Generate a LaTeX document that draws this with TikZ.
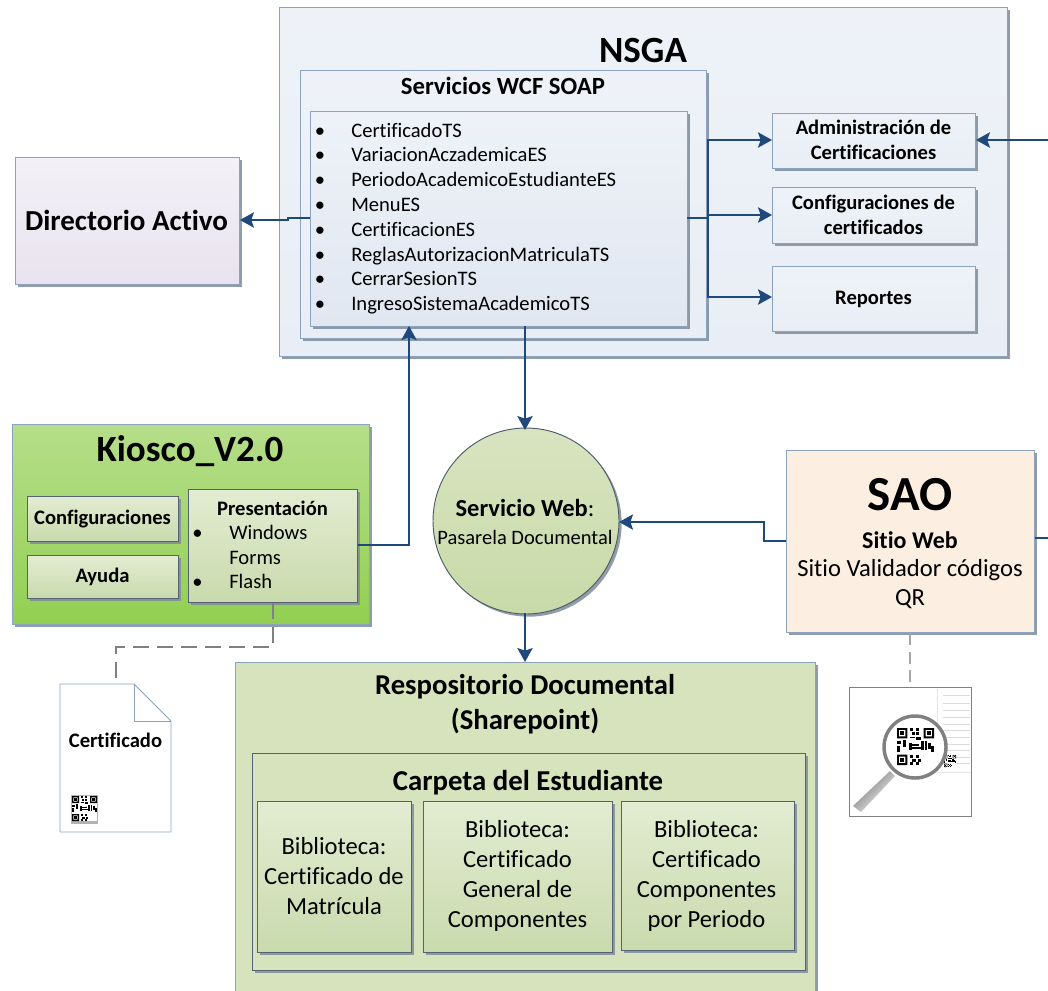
\documentclass[tikz,border=0pt]{standalone}
\usepackage{fontspec}
\setmainfont[Ligatures=NoCommon]{Carlito}
\usetikzlibrary{shadows,arrows.meta,calc}
\definecolor{edge}{HTML}{8CA3C0}
\definecolor{conn}{HTML}{1F497D}
\definecolor{dashc}{HTML}{808080}
\definecolor{blueA}{HTML}{EEF2F8}
\definecolor{blueB}{HTML}{E9EEF6}
\definecolor{blueC}{HTML}{E0E7F1}
\definecolor{lilacA}{HTML}{F3F0F7}
\definecolor{lilacB}{HTML}{E8E3EE}
\definecolor{greenA}{HTML}{B6DE8A}
\definecolor{greenB}{HTML}{92CF52}
\definecolor{sageA}{HTML}{E3ECD2}
\definecolor{sageB}{HTML}{C9DAAD}
\definecolor{circA}{HTML}{D8E4C0}
\definecolor{circB}{HTML}{C8DAA8}
\definecolor{peach}{HTML}{FDEEE2}
\definecolor{repo}{HTML}{D6E3BC}
\definecolor{shadowc}{HTML}{7F8B99}
\newcommand{\pxfont}[1]{\fontsize{\fpeval{#1*0.75}}{\fpeval{#1*0.9}}\selectfont}
\newcommand{\qrcode}[3]{% x y size (pixels)
  \begin{scope}[shift={(#1,#2)},x=#3*0.75pt/25,y=-#3*0.75pt/25]
    \fill[white] (0,0) rectangle (25,25);
    \foreach \a/\b in {0/0,18/0,0/18}{
      \fill[black,even odd rule] (\a,\b) rectangle (\a+7,\b+7) (\a+1.3,\b+1.3) rectangle (\a+5.7,\b+5.7);
      \fill[black] (\a+2.2,\b+2.2) rectangle (\a+4.8,\b+4.8);
    }
    \foreach \a/\b/\c/\d in {9/0/11/2,13/0/15/2,10/3/12/5,13/3/15/5,9/6/12/7,13/6/16/8,0/9/3/11,4/8/6/13,0/12/2/16,8/10/10/15,10/11/15/12,10/13/16/14,16/9/18/15,19/9/20/15,21/10/23/14,23/12/25/16,9/18/11/20,13/18/15/20,10/21/13/23,14/21/16/23,9/23/11/25,13/23/15/25}
      \fill[black] (\a,\b) rectangle (\c,\d);
  \end{scope}}
\tikzset{
  x=0.75pt,y=-0.75pt,
  softshadow/.style={drop shadow={shadow xshift=2pt,shadow yshift=-2pt,fill=shadowc,opacity=0.85}},
  base/.style={draw=edge,line width=0.7pt,inner sep=2pt,align=center,anchor=north west,softshadow},
  wh/.code 2 args={\tikzset{minimum width=#1*0.75pt,minimum height=#2*0.75pt}},
  bluebox/.style={base,top color=blueA,bottom color=blueB},
  blueinner/.style={base,top color=blueA,bottom color=blueC},
  sagebox/.style={base,top color=sageA,bottom color=sageB,draw=black!40!edge},
  conn/.style={draw=conn,line width=1.5pt,-{Stealth[length=10.5pt,width=11.5pt,inset=2pt]}},
  plain/.style={draw=conn,line width=1.5pt},
  dashline/.style={draw=dashc,line width=1.5pt,dash pattern=on 12pt off 6pt},
  txt/.style={inner sep=0pt,align=center},
  item/.style={inner sep=0pt,anchor=base west,font=\pxfont{20.6}},
}
\begin{document}
\begin{tikzpicture}
\useasboundingbox (0,0) rectangle (1048,990);
% NSGA
\node[bluebox,wh={728}{349}] (nsga) at (279,7) {};
\node[txt,font=\pxfont{37}\bfseries] (nsgat) at (643,50) {NSGA};
\node[bluebox,wh={406}{268}] (wcf) at (300,70) {};
\node[txt,font=\pxfont{24.7}\bfseries] (wcft) at (503,86) {Servicios WCF SOAP};
\node[blueinner,wh={377}{215}] (inner) at (310,111) {};
\foreach \i/\t [count=\n from 0] in {a/CertificadoTS,b/VariacionAczademicaES,c/PeriodoAcademicoEstudianteES,d/MenuES,e/CertificacionES,f/ReglasAutorizacionMatriculaTS,g/CerrarSesionTS,h/IngresoSistemaAcademicoTS}{
  \node[item] (bul\i) at (314.5,137+\n*24.8) {•};
  \node[item] (item\i) at (351,137+\n*24.8) {\t};
}
\node[bluebox,wh={203}{55}] (admin) at (772,113) {};
\node[txt,font=\pxfont{20.6}\bfseries] (admint) at (873.5,140) {Administración de\\Certificaciones};
\node[bluebox,wh={203}{56}] (conf) at (772,187) {};
\node[txt,font=\pxfont{20.6}\bfseries] (conft) at (873.5,215) {Configuraciones de\\certificados};
\node[bluebox,wh={203}{65}] (rep) at (772,266) {};
\node[txt,font=\pxfont{20.6}\bfseries] (rept) at (873.5,299) {Reportes};
% Directorio
\node[base,top color=lilacA,bottom color=lilacB,wh={224}{127}] (dir) at (15,157) {};
\node[txt,font=\pxfont{29}\bfseries] (dirt) at (126.5,220) {Directorio Activo};
% Kiosco
\node[base,top color=greenA,bottom color=greenB,wh={357}{200}] (kio) at (12,424) {};
\node[txt,font=\pxfont{37}\bfseries] (kiot) at (190,451) {Kiosco\_V2.0};
\node[sagebox,wh={151}{45}] (kconf) at (27,496) {};
\node[txt,font=\pxfont{20.6}\bfseries] (kconft) at (102.5,519.5) {Configuraciones};
\node[sagebox,wh={151}{43}] (ayuda) at (27,555) {};
\node[txt,font=\pxfont{20.6}\bfseries] (ayudat) at (102.5,577) {Ayuda};
\node[sagebox,wh={169}{113}] (pres) at (188,489) {};
\node[txt,font=\pxfont{20.6}\bfseries] (prest) at (272.5,508) {Presentación};
\node[item] (b1) at (192,539.5) {•};
\node[item] (w1) at (229,539.5) {Windows};
\node[item] (w2) at (229,564) {Forms};
\node[item] (b2) at (192,588.5) {•};
\node[item] (w3) at (229,588.5) {Flash};
% Circle
\node[circle,draw=black!45!edge,line width=0.7pt,top color=circA,bottom color=circB,minimum size=186*0.75pt,inner sep=0pt,softshadow] (web) at (526,521) {};
\node[txt,font=\pxfont{24.5}] (webt1) at (525,508) {\textbf{Servicio Web}:};
\node[txt,font=\pxfont{20.5}] (webt2) at (525,537) {Pasarela Documental};
% SAO
\node[base,fill=peach,wh={248}{182}] (sao) at (786,450) {};
\node[txt,font=\pxfont{49}\bfseries] (saot) at (910,495) {SAO};
\node[txt,font=\pxfont{24}\bfseries] (saot2) at (910,540) {Sitio Web};
\node[txt,font=\pxfont{24.6}] (saot3) at (910,584) {Sitio Validador códigos\\QR};
% Repository
\begin{scope}
\clip (0,0) rectangle (1048,990);
\node[base,fill=repo,wh={580}{340}] (repo) at (235,662) {};
\end{scope}
\node[txt,font=\pxfont{28.7}\bfseries] (repot) at (525,704) {Respositorio Documental\\(Sharepoint)};
\node[base,fill=repo,draw=black!40!edge,wh={553}{217}] (carp) at (252,753) {};
\node[txt,font=\pxfont{28.8}\bfseries] (carpt) at (528,783) {Carpeta del Estudiante};
\node[sagebox,wh={154}{151}] (b1box) at (257,801) {};
\node[sagebox,wh={189}{151}] (b2box) at (423,801) {};
\node[sagebox,wh={173}{149}] (b3box) at (621,801) {};
\node[txt,font=\pxfont{24.6}] (b1t) at (334,876) {Biblioteca:\\[0.5pt]Certificado de\\[0.5pt]Matrícula};
\node[txt,font=\pxfont{24.6}] (b2t) at (517.5,876) {Biblioteca:\\[0.5pt]Certificado\\[0.5pt]General de\\[0.5pt]Componentes};
\node[txt,font=\pxfont{24.6}] (b3t) at (706.5,876) {Biblioteca:\\[0.5pt]Certificado\\[0.5pt]Componentes\\[0.5pt]por Periodo};
% Certificate document
\coordinate (docA) at (60,684);
\coordinate (docB) at (134,684);
\coordinate (docC) at (171,721);
\coordinate (docD) at (171,832);
\coordinate (docE) at (60,832);
\coordinate (doctop) at (116,684);
\draw[edge,fill=white,line width=0.7pt,line join=round] (docA) -- (docB) -- (docC) -- (docD) -- (docE) -- cycle;
\draw[edge,line width=0.7pt] (docB) -- (134,721) -- (docC);
\node[txt,font=\pxfont{20.6}\bfseries] (doct) at (115.5,740) {Certificado};
\fill[black!30] (71,795) rectangle (98,824);
\qrcode{72}{796}{25}
% QR magnifier picture
\node[draw=black!50,fill=white,line width=0.6pt,minimum width=122*0.75pt,minimum height=129*0.75pt,inner sep=0pt,anchor=north west] (mag) at (849,687) {};
\draw[black!10,line width=0.7pt] (937,689) -- (937,772) -- (971,772);
\foreach \yy in {695,703,710,717,724,730,737,744,750,757,763}
  \draw[black!14,line width=0.6pt] (943,\yy) -- (970,\yy);
\qrcode{944}{755}{12}
\shade[left color=black!58,right color=white,shading angle=45] (853,806) -- (890,771) -- (895,776) -- (861,812) -- cycle;
\draw[black!50,line width=2.6pt,fill=white] (915,747) circle (31);
\qrcode{897}{728}{37}
% Connectors
\coordinate (edgeAdm) at (1048,140);
\coordinate (edgeSao) at (1048,538);
\coordinate (jn) at (708,218);
\coordinate (innerL) at (310,218);
\coordinate (innerR) at (687,218);
\coordinate (innerB1) at (409,326);
\coordinate (innerB2) at (525,326);
\draw[conn] (innerL) -- (288,218) -- (288,220) -- (dir.east |- 0,220);
\draw[plain] (innerR) -- (jn);
\draw[conn] (jn) |- (admin.west |- 0,140);
\draw[conn] (jn) |- (conf.west |- 0,215);
\draw[conn] (jn) |- (rep.west |- 0,297);
\draw[conn] (edgeAdm) -- (admin.east |- edgeAdm);
\draw[conn] (pres.east |- 0,545) -- (409,545) -- (innerB1);
\draw[conn] (innerB2) -- (525,430);
\draw[conn] (525,613) -- (525,662);
\draw[conn] (sao.west |- 0,541) -- (764,541) -- (764,522) -- (619,522);
\draw[plain] (sao.east |- edgeSao) -- (edgeSao);
\draw[dashline] (pres.south -| 273,0) -- (273,647) -- (116,647) -- (doctop);
\draw[dashline,draw=black!35,dash pattern=on 9pt off 5pt] (sao.south -| 910,0) -- (mag.north -| 910,0);
\end{tikzpicture}
\end{document}
